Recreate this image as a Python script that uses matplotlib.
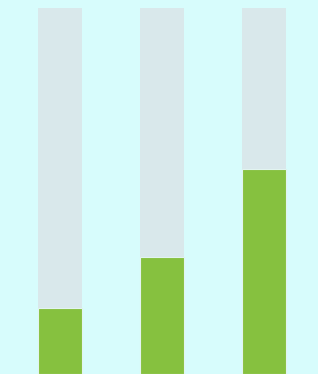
import matplotlib
matplotlib.use("Agg")
import matplotlib.pyplot as plt
import numpy as np

# data
categories = ["A", "B", "C"]
values = [18, 32, 56]
track_max = 100

bg_color = "#d7fcfc"
track_color = "#d9e8eb"
fill_color = "#86c13f"

fig = plt.figure(figsize=(3.18, 3.74), dpi=100)
fig.patch.set_facecolor(bg_color)
ax = fig.add_axes([0, 0, 1, 1])
ax.set_facecolor(bg_color)

x = np.arange(len(categories))
width = 0.44

# grey tracks behind, green fill on top
ax.bar(x, [track_max] * len(values), width=width, color=track_color, zorder=1)
ax.bar(x, values, width=width, color=fill_color, edgecolor="#e2f4f0",
       linewidth=0.8, zorder=2)

# value labels sit at the top edge, mostly cut off like in the original
for xi, v in zip(x, values):
    ax.text(xi, 101.5, f"{v}%", ha="center", va="bottom", color=fill_color,
            fontsize=12, fontweight="bold", zorder=3)

ax.set_xlim(-0.588, 2.529)
ax.set_ylim(0, 102.2)
ax.axis("off")

fig.savefig("out.png", dpi=100, facecolor=bg_color)
